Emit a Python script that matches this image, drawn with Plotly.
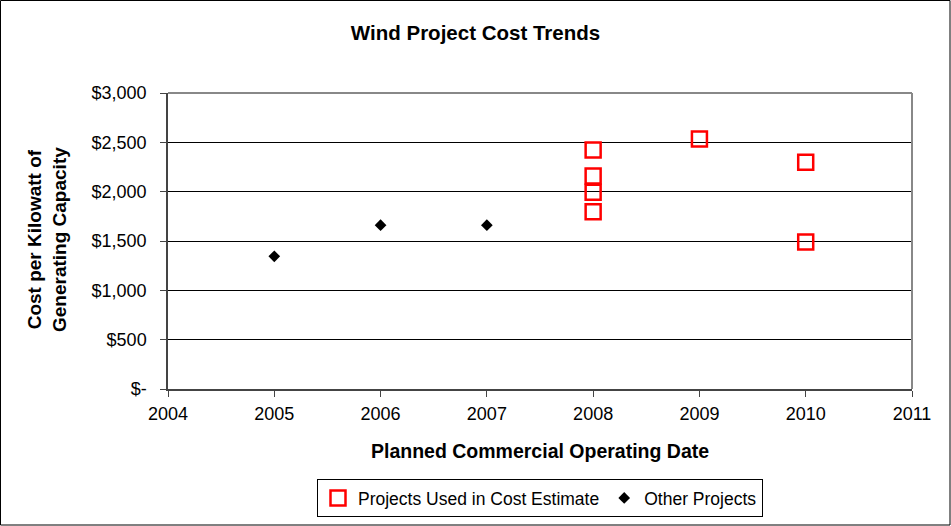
import plotly.graph_objects as go

# Data
used_years = [2008, 2008, 2008, 2008, 2009, 2010, 2010]
used_costs = [2422, 2160, 1993, 1797, 2534, 2297, 1490]
other_years = [2005, 2006, 2007]
other_costs = [1345, 1660, 1660]
y_tickvals = [0, 500, 1000, 1500, 2000, 2500, 3000]
y_ticktext = ["$-", "$500", "$1,000", "$1,500", "$2,000", "$2,500", "$3,000"]
x_tickvals = [2004, 2005, 2006, 2007, 2008, 2009, 2010, 2011]

W, H = 951, 526
L, R, T, B = 168, 39, 93, 137
pw, ph = W - L - R, H - T - B

def px(xpix):
    return (xpix - L) / pw

def py(ypix):
    return (H - B - ypix) / ph

FONT = "Liberation Sans, Arial, sans-serif"

fig = go.Figure()
fig.add_trace(go.Scatter(
    x=used_years, y=used_costs, mode="markers",
    name="Projects Used in Cost Estimate",
    marker=dict(symbol="square-open", size=15, color="#ff0000", line=dict(width=2.5, color="#ff0000")),
))
fig.add_trace(go.Scatter(
    x=other_years, y=other_costs, mode="markers",
    name="Other Projects",
    marker=dict(symbol="diamond", size=9, color="#000000"),
))

fig.update_layout(
    width=W, height=H,
    margin=dict(l=L, r=R, t=T, b=B, autoexpand=False),
    paper_bgcolor="white", plot_bgcolor="white",
    font=dict(family=FONT, size=18, color="black"),
    title=dict(text="<b>Wind Project Cost Trends</b>", x=0.5, xref="container",
               y=1 - 33 / H, yref="container", yanchor="middle",
               font=dict(size=20.5, family=FONT)),
    showlegend=True,
    legend=dict(orientation="h", x=0.5, xanchor="center", y=py(498), yanchor="middle",
                bordercolor="black", borderwidth=1, font=dict(size=17.5, family=FONT),
                itemwidth=30, tracegroupgap=0),
    xaxis=dict(range=[2004, 2011], tickvals=x_tickvals, ticks="outside", ticklen=6,
               tickcolor="#444", showgrid=False, zeroline=False,
               showline=True, linecolor="#444", linewidth=1.5, mirror=False,
               tickfont=dict(size=18), ticklabelstandoff=2),
    yaxis=dict(range=[0, 3000], tickvals=y_tickvals, ticktext=y_ticktext,
               ticks="outside", ticklen=6, tickcolor="#444",
               showgrid=True, gridcolor="black", gridwidth=1, zeroline=False,
               showline=True, linecolor="#444", linewidth=1.5,
               tickfont=dict(size=18), ticklabelstandoff=10),
)

# Plot area gray border top/right
fig.add_shape(type="line", xref="paper", yref="paper", x0=0, x1=1, y0=1, y1=1,
              line=dict(color="#888", width=2))
fig.add_shape(type="line", xref="paper", yref="paper", x0=1, x1=1, y0=0, y1=1,
              line=dict(color="#888", width=2))
# Outer chart border
fig.add_shape(type="rect", xref="paper", yref="paper",
              x0=px(0.5), x1=px(950), y0=py(525), y1=py(0.5),
              line=dict(color="black", width=1))

fig.add_annotation(text="<b>Cost per Kilowatt of<br>Generating Capacity</b>",
                   xref="paper", yref="paper", x=px(47), y=py(240),
                   textangle=-90, showarrow=False, font=dict(size=19, family=FONT),
                   xanchor="center", yanchor="middle")
fig.add_annotation(text="<b>Planned Commercial Operating Date</b>",
                   xref="paper", yref="paper", x=px(540), y=py(451),
                   showarrow=False, font=dict(size=19.5, family=FONT),
                   xanchor="center", yanchor="middle")

fig.write_html("out.html", config={"displayModeBar": False},
               post_script="document.body.style.margin='0';")
